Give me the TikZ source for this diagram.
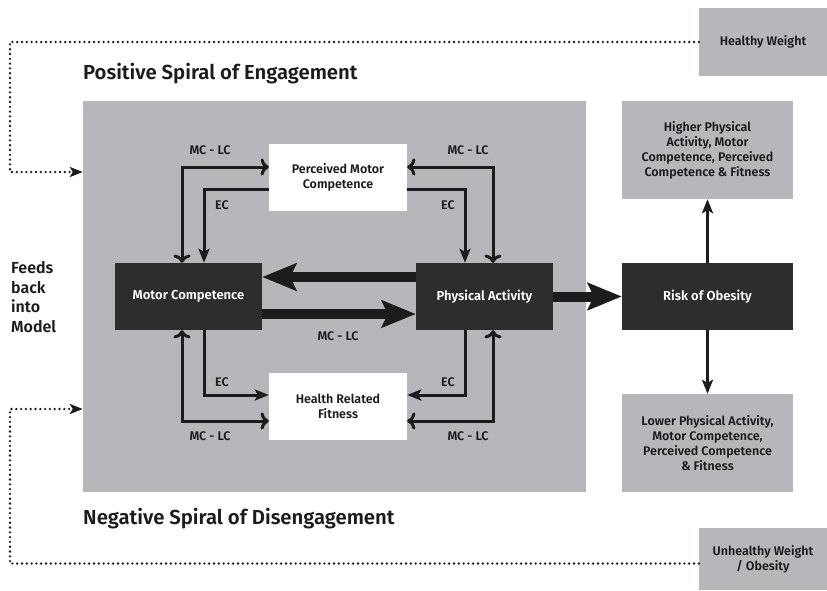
\documentclass[tikz,border=0pt]{standalone}
\usepackage{fontspec}
\setmainfont{Fira Sans}[BoldFont={* SemiBold}]
\usepackage{tikz}
\usetikzlibrary{arrows.meta,positioning,calc}

\definecolor{panel}{HTML}{B6B7BA}
\definecolor{darkbox}{HTML}{2D2D2D}
\definecolor{ink}{HTML}{1C1C1C}

\tikzset{
  dark/.style={fill=darkbox, text=white, font=\bfseries\fontsize{13}{15}\selectfont, inner sep=0pt},
  light/.style={fill=white, text=ink, align=center, font=\bfseries\fontsize{12.5}{15}\selectfont, inner sep=0pt},
  grey/.style={fill=panel, text=ink, align=center, font=\bfseries\fontsize{12.5}{15}\selectfont, inner sep=0pt},
  link/.style={draw=ink, line width=3pt, -{Stealth[length=14pt,width=11pt,inset=3pt]}},
  biglink/.style={draw=ink, line width=10pt, -{Stealth[length=34pt,width=27pt,inset=6pt]}},
  feedback/.style={draw=ink, line width=2.6pt, line cap=round, dash pattern=on 0pt off 4.8pt,
    -{Stealth[length=13pt,width=10pt,inset=3pt]}},
  lbl/.style={text=ink, font=\bfseries\fontsize{12.5}{14}\selectfont, inner sep=0pt},
  heading/.style={text=ink, font=\bfseries\fontsize{20.3}{22}\selectfont, anchor=west, inner sep=0pt}
}

\begin{document}
\begin{tikzpicture}[x=1pt, y=-1pt]
    \useasboundingbox (0,0) rectangle (827,590);

    % shaded model area
    \node [fill=panel, minimum width=503pt, minimum height=391pt, inner sep=0pt] (bg) at (334.5,296.5) {};

    % main boxes
    \node [dark, minimum width=147pt, minimum height=67pt] (mc) at (188.5,296.5) {Motor Competence};
    \node [dark, minimum width=137pt, minimum height=67pt] (pa) at (484.5,296.5) {Physical Activity};
    \node [dark, minimum width=171pt, minimum height=67pt] (ro) at (707.5,296.5) {Risk of Obesity};
    \node [light, minimum width=138pt, minimum height=67pt] (pmc) at (338,177.5) {Perceived Motor\\Competence};
    \node [light, minimum width=138pt, minimum height=67pt] (hrf) at (338,406.5) {Health Related\\Fitness};
    \node [grey, minimum width=171pt, minimum height=98pt] (hi) at (707.5,150) {Higher Physical\\Activity, Motor\\Competence, Perceived\\Competence \& Fitness};
    \node [grey, minimum width=171pt, minimum height=98pt] (lo) at (707.5,443) {Lower Physical Activity,\\Motor Competence,\\Perceived Competence\\\& Fitness};
    \node [grey, minimum width=128pt, minimum height=68pt] (hw) at (763,42) {Healthy Weight};
    \node [grey, minimum width=128pt, minimum height=62pt] (uw) at (763,559) {Unhealthy Weight\\/ Obesity};

    % headings
    \node [heading] (pos) at (83,74) {Positive Spiral of Engagement};
    \node [heading] (neg) at (83,519) {Negative Spiral of Disengagement};
    \node [text=ink, font=\bfseries\fontsize{16}{19.5}\selectfont, align=left, anchor=west, inner sep=0pt] (fb) at (11,297) {Feeds\\back\\into\\Model};

    % perceived motor competence links
    \draw [link, <->] ([xshift=-6.5pt]mc.north) |- ([yshift=10.5pt]pmc.west);
    \draw [link] ([yshift=-11.5pt]pmc.west) -| ([xshift=15.5pt]mc.north);
    \draw [link, <->] ([xshift=8.5pt]pa.north) |- ([yshift=10.5pt]pmc.east);
    \draw [link] ([yshift=-11.5pt]pmc.east) -| ([xshift=-19.5pt]pa.north);

    % fitness links
    \draw [link] ([xshift=15.5pt]mc.south) |- ([yshift=11.5pt]hrf.west);
    \draw [link, <->] ([xshift=-6.5pt]mc.south) |- ([yshift=-14.5pt]hrf.west);
    \draw [link] ([xshift=-19.5pt]pa.south) |- ([yshift=11.5pt]hrf.east);
    \draw [link, <->] ([xshift=8.5pt]pa.south) |- ([yshift=-14.5pt]hrf.east);

    % labels
    \foreach \x/\y/\t in {210/150/MC - LC, 222/205/EC, 468/150/MC - LC, 448/205/EC,
                          222/382/EC, 210/436/MC - LC, 448/382/EC, 468/436/MC - LC, 338/336/MC - LC}
        \node [lbl] at (\x,\y) {\t};

    % thick arrows
    \draw [biglink] ([yshift=19.5pt]pa.west) -- ([yshift=19.5pt]mc.east);
    \draw [biglink] ([yshift=-17.5pt]mc.east) -- ([yshift=-17.5pt]pa.west);
    \draw [biglink] (pa.east) -- (ro.west);

    % outcomes
    \draw [link] (ro.north) -- (hi.south);
    \draw [link] (ro.south) -- (lo.north);

    % feedback loops
    \draw [feedback] (hw.west) -| (10,172) -- ([yshift=124.5pt]bg.west);
    \draw [feedback] ([yshift=-4.5pt]uw.west) -| (10,409) -- ([yshift=-112.5pt]bg.west);
\end{tikzpicture}
\end{document}
